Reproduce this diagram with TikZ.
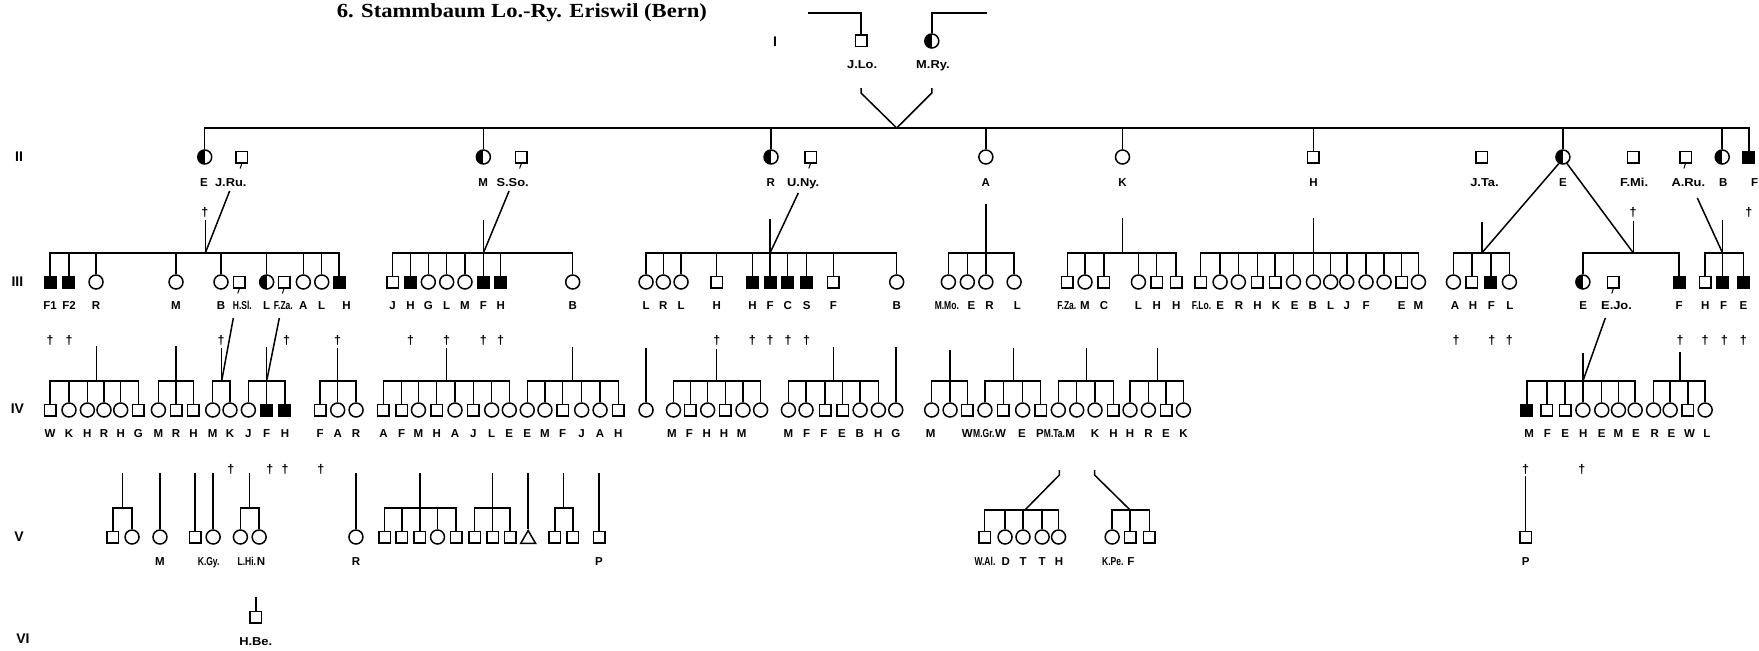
\documentclass[tikz,border=0pt]{standalone}
\usepackage{fontspec}
\usepackage{graphicx}
\setmainfont{Liberation Serif}
\newfontfamily\sansf{Liberation Sans}
\usetikzlibrary{shapes.geometric}
\newcommand\labfont{\sansf\bfseries\fontsize{11.5}{12}\selectfont}
\newcommand\dagfont{\sansf\bfseries\fontsize{12.5}{13}\selectfont}
\newcommand\genfont{\sansf\bfseries\fontsize{14}{15}\selectfont}
\newcommand\titlefont{\rmfamily\bfseries\fontsize{20}{24}\selectfont}
\newcommand\wlab[1]{\scalebox{1.12}[1]{#1}}
\newcommand\nlab[1]{\scalebox{0.74}[1]{#1}}
\newcommand\famline[3]{\draw (#2.north) |- (#3.north |- #1) -- (#3.north);}
\newcommand\kidlines[2]{\foreach \k in {#2}{\draw (\k.north) -- (\k.north |- #1);}}
\tikzset{
  sq/.style={draw, rectangle, minimum size=11.5pt, inner sep=0pt, fill=white},
  sqf/.style={sq, fill=black},
  ci/.style={draw, circle, minimum size=14pt, inner sep=0pt, fill=white},
  hc/.style={ci, path picture={\fill[black] (path picture bounding box.north) rectangle (path picture bounding box.south west);}},
  tri/.style={draw, regular polygon, regular polygon sides=3, minimum size=17pt, inner sep=0pt, fill=white},
  lab/.style={font=\labfont, inner sep=0pt, anchor=base},
  dag/.style={font=\dagfont, inner sep=0pt},
  gen/.style={font=\genfont, inner sep=0pt},
  ttl/.style={font=\titlefont, inner sep=0pt, anchor=base},
  tail/.style={line width=1pt},
}
\begin{document}
\begin{tikzpicture}[x=1.1218pt, y=-1pt, line width=1.5pt]
\fill[white] (0,0) rectangle (1568,650);
\useasboundingbox (0,0) rectangle (1568,650);

% title
\node[ttl] (title) at (465.2,18) {\scalebox{1.13}[1]{6. Stammbaum Lo.-Ry. Eriswil (Bern)}};

% generation numerals
\node[gen] (gI) at (690.8,42) {I};
\node[gen] (gII) at (17,157) {II};
\node[gen] (gIII) at (15.5,282) {III};
\node[gen] (gIV) at (15.5,409) {IV};
\node[gen] (gV) at (17,537) {V};
\node[gen] (gVI) at (20.5,639) {VI};

% ---------------- Generation I
\node[sq] (jlo) at (767.5,41) {};
\node[hc] (mry) at (830.6,41) {};
\node[lab] (ljlo) at (768.5,68) {\wlab{J.Lo.}};
\node[lab] (lmry) at (831.6,68) {\wlab{M.Ry.}};
\coordinate (jlol) at (720.1,13);
\coordinate (mryr) at (879.5,13);
\draw (jlol) -| (jlo.north);
\draw (mryr) -| (mry.north);
\coordinate (vl) at (767.5,88);
\coordinate (vr) at (830.6,88);
\coordinate (vb) at (799.3,128);
\draw (vl) -- ++(0,5) -- (vb);
\draw (vr) -- ++(0,5) -- (vb);

% ---------------- Generation II
\foreach \n/\x/\s in {e2/182.5/hc, jru/215.6/sq, m2/430.9/hc, sso/464.7/sq, r2/687.3/hc, uny/722.5/sq, a2/878.8/ci, k2/1000.6/ci, h2/1170.8/sq, jta/1320.7/sq, e8/1393.2/hc, fmi/1455.8/sq, aru/1502.5/sq, b2/1535.2/hc, fz/1559/sqf}
  \node[\s] (\n) at (\x,157) {};
\foreach \n in {jru,sso,uny,aru} \draw[tail] (\n.south) -- ++(-1.5,5);
\foreach \n/\x/\t in {le2/181.9/E, ljru/205.7/\wlab{J.Ru.}, lm2/430.6/M, lsso/457/\wlab{S.So.}, lr2/687/R, luny/715.9/\wlab{U.Ny.}, la2/878.8/A, lk2/1000.6/K, lh2/1170.8/H, ljta/1323.3/\wlab{J.Ta.}, le8/1393.2/E, lfmi/1456.7/\wlab{F.Mi.}, laru/1505/\wlab{A.Ru.}, lb2/1536.2/B, lfz/1564/F}
  \node[lab] (\n) at (\x,186) {\t};
\famline{vb}{e2}{fz}
\kidlines{vb}{m2,r2,a2,k2,h2,e8,b2}
\foreach \n/\x in {t2a/182.5, t2b/1455.8, t2c/1559}
  \node[dag] (\n) at (\x,212) {†};

% connectors II -> III
\coordinate (d1) at (183,253);   \coordinate (p1) at (183,220);   \coordinate (q1) at (204.7,191);
\coordinate (d2) at (430.9,253); \coordinate (p2) at (430.9,220); \coordinate (q2) at (453.8,191);
\coordinate (d3) at (686.4,253); \coordinate (p3) at (686.4,219); \coordinate (q3) at (711.6,193);
\coordinate (d4) at (878.8,253); \coordinate (p4) at (878.8,204);
\coordinate (d5) at (1000.6,253); \coordinate (p5) at (1000.6,218);
\coordinate (d6) at (1170.8,253); \coordinate (p6) at (1170.8,218);
\coordinate (d7) at (1320.9,253); \coordinate (p7) at (1320.9,222);
\coordinate (d8) at (1456,253);   \coordinate (p8) at (1456,221);
\coordinate (d9) at (1535.5,253); \coordinate (p9) at (1535.5,220); \coordinate (q9) at (1513,198);

% ---------------- Generation III
\foreach \n/\x/\s in {c1a/44.6/sqf, c1b/61.5/sqf, c1c/85.6/ci, c1d/156.9/ci, c1e/197/ci, hsl/213.4/sq, c1f/237.7/hc, fza/253.2/sq, c1g/270.4/ci, c1h/286.8/ci, c1i/302.2/sqf,
  c2a/350/sq, c2b/366/sqf, c2c/381.8/ci, c2d/398.2/ci, c2e/414.5/ci, c2f/430.9/sqf, c2g/446.3/sqf, c2h/510.5/ci,
  c3a/575.9/ci, c3b/591.3/ci, c3c/607.1/ci, c3d/638.9/sq, c3e/670.7/sqf, c3f/686.4/sqf, c3g/702.2/sqf, c3h/719.1/sqf, c3i/742.9/sq, c3j/799.3/ci,
  c4a/845.4/ci, c4b/862.3/ci, c4c/878.8/ci, c4d/904/ci,
  c5a/951.5/sq, c5b/967.2/ci, c5c/984.1/sq, c5d/1014.8/ci, c5e/1031.1/sq, c5f/1048.3/sq,
  c6a/1070.3/sq, c6b/1087.6/ci, c6c/1103.9/ci, c6d/1120.9/sq, c6e/1136.6/sq, c6f/1153/ci, c6g/1170.8/ci, c6h/1186.2/ci, c6i/1200.5/ci, c6j/1217.7/ci, c6k/1233.8/ci, c6l/1249.5/sq, c6m/1264.4/ci,
  c7a/1295.6/ci, c7b/1312/sq, c7c/1328.9/sqf, c7d/1345.5/ci,
  c8a/1411/hc, ejo/1438.2/sq, c8b/1496.8/sqf,
  c9a/1520/sq, c9b/1535.5/sqf, c9c/1554.2/sqf}
  \node[\s] (\n) at (\x,282) {};
\foreach \n in {hsl,fza,ejo} \draw[tail] (\n.south) -- ++(-1.5,5);
\draw (p1) -- (d1); \draw (q1) -- (d1);
\draw (p2) -- (c2f.north); \draw (q2) -- (d2);
\draw (p3) -- (c3f.north); \draw (q3) -- (d3);
\draw (p4) -- (c4c.north);
\draw (p5) -- (d5);
\draw (p6) -- (c6g.north);
\draw (p7) -- (d7); \draw (e8.-122) -- (d7);
\draw (p8) -- (d8); \draw (e8.-58) -- (d8);
\draw (p9) -- (c9b.north); \draw (q9) -- (d9);
\famline{d1}{c1a}{c1i} \kidlines{d1}{c1b,c1c,c1d,c1e,c1f,c1g,c1h}
\famline{d2}{c2a}{c2h} \kidlines{d2}{c2b,c2c,c2d,c2e,c2g}
\famline{d3}{c3a}{c3j} \kidlines{d3}{c3b,c3c,c3d,c3e,c3g,c3h,c3i}
\famline{d4}{c4a}{c4d} \kidlines{d4}{c4b}
\famline{d5}{c5a}{c5f} \kidlines{d5}{c5b,c5c,c5d,c5e}
\famline{d6}{c6a}{c6m} \kidlines{d6}{c6b,c6c,c6d,c6e,c6f,c6h,c6i,c6j,c6k,c6l}
\famline{d7}{c7a}{c7d} \kidlines{d7}{c7b,c7c}
\famline{d8}{c8a}{c8b}
\famline{d9}{c9a}{c9c}
\foreach \n/\x/\t in {l1a/44.6/F1, l1b/61.5/F2, l1c/85.6/R, l1d/156.9/M, l1e/197/B, lhsl/216/\nlab{H.Sl.}, l1f/237.7/L, lfza/252.6/\nlab{F.Za.}, l1g/270.4/A, l1h/286.8/L, l1i/309/H,
  l2a/350/J, l2b/366/H, l2c/381.8/G, l2d/398.2/L, l2e/414.5/M, l2f/430.9/F, l2g/446.3/H, l2h/510.5/B,
  l3a/575.9/L, l3b/591.3/R, l3c/607.1/L, l3d/638.9/H, l3e/670.7/H, l3f/686.4/F, l3g/702.2/C, l3h/719.1/S, l3i/742.9/F, l3j/799.3/B,
  l4a/844/\nlab{M.Mo.}, l4b/866/E, l4c/882/R, l4d/907/L,
  l5a/951/\nlab{F.Za.}, l5b/967.2/M, l5c/984.1/C, l5d/1014.8/L, l5e/1031.1/H, l5f/1048.6/H,
  l6a/1071/\nlab{F.Lo.}, l6b/1087.6/E, l6c/1104.5/R, l6d/1120.9/H, l6e/1137.5/K, l6f/1154/E, l6g/1170.2/B, l6h/1186.2/L, l6i/1200.5/J, l6j/1217.7/F, l6l/1249.5/E, l6m/1264.4/M,
  l7a/1297/A, l7b/1313/H, l7c/1329.5/F, l7d/1346/L,
  l8a/1411.3/E, lejo/1441/\wlab{E.Jo.}, l8b/1496.8/F,
  l9a/1520/H, l9b/1536.5/F, l9c/1554.2/E}
  \node[lab] (\n) at (\x,309) {\t};
\foreach \n/\x in {t3a/44.6, t3b/61.5, t3c/197, t3d/255.5, t3e/301, t3f/366, t3g/398.2, t3h/430.9, t3i/446.3, t3j/638.9, t3k/670.7, t3l/686.4, t3m/702.5, t3n/719.1, t3o/1298, t3p/1329.8, t3q/1345.5, t3r/1497.7, t3s/1520, t3t/1537, t3u/1554}
  \node[dag] (\n) at (\x,340) {†};

% connectors III -> IV
\coordinate (u1) at (86.2,381);  \coordinate (v1) at (86.2,346);
\coordinate (u2) at (157,381);   \coordinate (v2) at (157,346);
\coordinate (u3) at (197.6,381); \coordinate (v3) at (197.6,348); \coordinate (w3) at (208,318);
\coordinate (u4) at (237.7,381); \coordinate (v4) at (237.7,347); \coordinate (w4) at (249,318);
\coordinate (u5) at (301,381);   \coordinate (v5) at (301,348);
\coordinate (u6) at (398.2,381); \coordinate (v6) at (398.2,348);
\coordinate (u7) at (510.5,381); \coordinate (v7) at (510.5,347);
\coordinate (v7b) at (575.9,348);
\coordinate (u8) at (638.9,381); \coordinate (v8) at (638.9,349);
\coordinate (u9) at (742.9,381); \coordinate (v9) at (742.9,347);
\coordinate (v9b) at (798.5,347);
\coordinate (u10) at (846.9,381); \coordinate (v10) at (846.9,350);
\coordinate (u11) at (903.3,381); \coordinate (v11) at (903.3,348);
\coordinate (u12) at (968.7,381); \coordinate (v12) at (968.7,348);
\coordinate (u13) at (1031.7,381); \coordinate (v13) at (1031.7,348);
\coordinate (u14) at (1411,381);  \coordinate (v14) at (1411,353); \coordinate (w14) at (1431,318);
\coordinate (u15) at (1497.7,381); \coordinate (v15) at (1497.7,352);

% ---------------- Generation IV
\foreach \n/\x/\s in {nRa/44.6/sq, nRb/61.5/ci, nRc/77.9/ci, nRd/92.7/ci, nRe/107.6/ci, nRf/123.3/sq,
  nMa/141.2/ci, nMb/157/sq, nMc/172.4/sq,
  nBa/189.6/ci, nBb/205/ci,
  nLa/221.4/ci, nLb/237.7/sqf, nLc/254/sqf,
  nHa/285.3/sq, nHb/301/ci, nHc/317.4/ci,
  oLa/341.8/sq, oLb/358.1/sq, oLc/373/ci, oLd/389.3/sq, oLe/405.6/ci, oLf/422/sq, oLg/438.3/ci, oLh/454/ci,
  oBa/470/ci, oBb/485.8/ci, oBc/501.6/sq, oBd/518.5/ci, oBe/534.9/ci, oBf/551.2/sq,
  pL/575.9/ci,
  pHa/600.3/ci, pHb/615.4/sq, pHc/630.8/ci, pHd/646.6/sq, pHe/662.3/ci, pHf/678/ci,
  pFa/702.8/ci, pFb/718.5/ci, pFc/735.5/sq, pFd/751.2/sq, pFe/766.7/ci, pFf/783/ci,
  pG/798.5/ci,
  qMa/830.5/ci, qMb/846.9/ci, qMc/862.3/sq,
  qLa/878/ci, qLb/894.4/sq, qLc/911.6/ci, qLd/927.7/sq,
  rMa/943.4/ci, rMb/959.8/ci, rMc/976.1/ci, rMd/992.5/sq,
  rHa/1007.3/ci, rHb/1023.7/ci, rHc/1039.4/sq, rHd/1054.9/ci,
  sEa/1361/sqf, sEb/1378.8/sq, sEc/1395.2/sq, sEd/1411/ci, sEe/1427.8/ci, sEf/1442.7/ci, sEg/1457.6/ci,
  sFa/1474/ci, sFb/1488.8/ci, sFc/1504.5/sq, sFd/1520/ci}
  \node[\s] (\n) at (\x,410) {};
\foreach \i in {1,3,6,7,8,9,11,12,13,15} \draw (v\i) -- (u\i);
\draw (v2) -- (nMb.north); \draw (v4) -- (nLb.north); \draw (v5) -- (nHb.north);
\draw (v10) -- (qMb.north); \draw (v14) -- (sEd.north);
\draw (w3) -- (u3); \draw (w4) -- (u4); \draw (w14) -- (u14);
\famline{u1}{nRa}{nRf} \kidlines{u1}{nRb,nRc,nRd,nRe}
\famline{u2}{nMa}{nMc}
\famline{u3}{nBa}{nBb}
\famline{u4}{nLa}{nLc}
\famline{u5}{nHa}{nHc}
\famline{u6}{oLa}{oLh} \kidlines{u6}{oLb,oLc,oLd,oLe,oLf,oLg}
\famline{u7}{oBa}{oBf} \kidlines{u7}{oBb,oBc,oBd,oBe}
\draw (v7b) -- (pL.north);
\famline{u8}{pHa}{pHf} \kidlines{u8}{pHb,pHc,pHd,pHe}
\famline{u9}{pFa}{pFf} \kidlines{u9}{pFb,pFc,pFd,pFe}
\draw (v9b) -- (pG.north);
\famline{u10}{qMa}{qMc}
\famline{u11}{qLa}{qLd} \kidlines{u11}{qLb,qLc}
\famline{u12}{rMa}{rMd} \kidlines{u12}{rMb,rMc}
\famline{u13}{rHa}{rHd} \kidlines{u13}{rHb,rHc}
\famline{u14}{sEa}{sEg} \kidlines{u14}{sEb,sEc,sEe,sEf}
\famline{u15}{sFa}{sFd} \kidlines{u15}{sFb,sFc}
\foreach \n/\x/\t in {m1/44.6/W, m2x/61.5/K, m3/77.9/H, m4/92.7/R, m5/107.6/H, m6/123.3/G, m7/141.2/M, m8/157/R, m9/172.4/H, m10/189.6/M, m11/205/K, m12/221.4/J, m13/237.7/F, m14/254/H, m15/285.3/F, m16/301/A, m17/317.4/R,
  m18/341.8/A, m19/358.1/F, m20/373/M, m21/389.3/H, m22/405.6/A, m23/422/J, m24/438.3/L, m25/454/E,
  m26/470/E, m27/485.8/M, m28/501.6/F, m29/518.5/J, m30/534.9/A, m31/551.2/H,
  m32/599/M, m33/614.5/F, m34/630/H, m35/645.4/H, m36/661.2/M,
  m37/702.8/M, m38/719/F, m39/734.5/F, m40/750.5/E, m41/766.4/B, m42/783/H, m43/798.5/G,
  m44/829.5/M, m45/862.3/W, m46/877/\nlab{M.Gr.}, m47/892/W, m48/911/E, m49/927/P, m50/940/\nlab{M.Ta.}, m51/954/M, m52/976/K, m53/992.5/H,
  m54/1007.3/H, m55/1023.7/R, m56/1039.4/E, m57/1054.9/K,
  m58/1363/M, m59/1379.4/F, m60/1395.2/E, m61/1411.4/H, m62/1427.8/E, m63/1442.7/M, m64/1458.3/E,
  m65/1475/R, m66/1490/E, m67/1506/W, m68/1521.5/L}
  \node[lab] (\n) at (\x,437) {\t};
\foreach \n/\x in {t4a/205.7, t4b/240.5, t4c/254.2, t4d/285.9, t4e/1360, t4f/1410}
  \node[dag] (\n) at (\x,469) {†};

% ---------------- Generation V
\foreach \n/\x/\s in {vAa/100.6/sq, vAb/117.7/ci, vM/142.6/ci, vH/174/sq, vK/190/ci, vJa/214.3/ci, vJb/231/ci, vR/317.3/ci,
  vMa/342.9/sq, vMb/358.2/sq, vMc/374.3/sq, vMd/390/ci, vMe/406.7/sq,
  vLa/423/sq, vLb/439.1/sq, vLc/454.8/sq,
  vFa/494.7/sq, vFb/510.7/sq, vP/534/sq,
  vTa/877.8/sq, vTb/895.9/ci, vTc/911.9/ci, vTd/929/ci, vTe/943.6/ci,
  vKa/991.4/ci, vKb/1007.4/sq, vKc/1024.5/sq,
  vPP/1360/sq}
  \node[\s] (\n) at (\x,537) {};
\node[tri] (vT) at (470.8,539) {};
\coordinate (x1) at (109.2,508); \coordinate (y1) at (109.2,473);
\coordinate (x2) at (222.4,508); \coordinate (y2) at (222.4,473);
\coordinate (x3) at (374.3,508); \coordinate (y3) at (374.3,473);
\coordinate (x4) at (439.1,508); \coordinate (y4) at (439.1,473);
\coordinate (x5) at (502.2,508); \coordinate (y5) at (502.2,473);
\coordinate (x6) at (913.6,510); \coordinate (y6) at (944.3,470);
\coordinate (x7) at (1007.4,510); \coordinate (y7) at (975.7,470);
\coordinate (yM) at (142.6,473); \coordinate (yH) at (174,473); \coordinate (yK) at (190,473);
\coordinate (yR) at (317.3,473); \coordinate (yT) at (470.8,473); \coordinate (yP) at (534,473);
\coordinate (yPP) at (1360,476);
\draw (y1) -- (x1); \draw (y2) -- (x2); \draw (y3) -- (vMc.north); \draw (y4) -- (vLb.north); \draw (y5) -- (x5);
\draw (y6) -- ++(0,5) -- (x6);
\draw (y7) -- ++(0,5) -- (x7);
\draw (yM) -- (vM.north); \draw (yH) -- (vH.north); \draw (yK) -- (vK.north);
\draw (yR) -- (vR.north); \draw (yT) -- (vT.north); \draw (yP) -- (vP.north);
\draw (yPP) -- (vPP.north);
\famline{x1}{vAa}{vAb}
\famline{x2}{vJa}{vJb}
\famline{x3}{vMa}{vMe} \kidlines{x3}{vMb,vMd}
\famline{x4}{vLa}{vLc}
\famline{x5}{vFa}{vFb}
\famline{x6}{vTa}{vTe} \kidlines{x6}{vTb,vTc,vTd}
\famline{x7}{vKa}{vKc} \kidlines{x7}{vKb}
\foreach \n/\x/\t in {k1/142.6/M, k2x/186/\nlab{K.Gy.}, k3/220/\nlab{L.Hi.}, k4/232.7/N, k5/317.3/R, k6/534/P,
  k7/878/\nlab{W.Al.}, k8/896.5/D, k9/912/T, k10/929/T, k11/944/H, k12/992/\nlab{K.Pe.}, k13/1008/F, k14/1360/P}
  \node[lab] (\n) at (\x,565) {\t};

% ---------------- Generation VI
\node[sq] (vi) at (228,617) {};
\coordinate (zvi) at (228,597);
\draw (zvi) -- (vi.north);
\node[lab] (lvi) at (228,645) {\wlab{H.Be.}};
\end{tikzpicture}
\end{document}
